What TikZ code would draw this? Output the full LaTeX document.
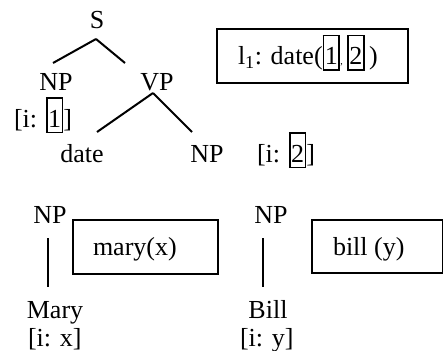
\documentclass[tikz,border=0pt]{standalone}
\usepackage{fontspec}
\setmainfont{Liberation Serif}
\newcommand{\numbox}[1]{{\setlength{\fboxsep}{0.5pt}\setlength{\fboxrule}{1.8pt}\fbox{\rule[-4pt]{0pt}{32pt}#1}}}

\begin{document}
\begin{tikzpicture}[x=1pt, y=-1pt, line width=2pt, every node/.style={inner sep=0pt, font=\fontsize{26}{30}\selectfont}, semframe/.style={draw, line width=1.8pt}]
\useasboundingbox (0,0) rectangle (443,350);

\node[anchor=base] (S) at (97,29) {S};
\node[anchor=base] (NPa) at (56,90) {NP};
\node[anchor=base] (VP) at (157,90) {VP};
\node[anchor=base west] (IdxA) at (13,127) {[i: \numbox{1}]};
\node[anchor=base] (Date) at (82,162) {date};
\node[anchor=base] (NPb) at (207,162) {NP};
\node[anchor=base west] (IdxB) at (256,162) {[i: \numbox{2}]};

\node[semframe, minimum width=191pt, minimum height=54pt, anchor=north west] (PredBox) at (216,28) {};
\node[anchor=base west] (Pred) at (237,65) {l\textsubscript{1}: date(\numbox{1}{\fontsize{10}{12}\selectfont,}\,\numbox{2}\,)};

\node[anchor=base] (NPc) at (50,223) {NP};
\node[anchor=base] (Mary) at (55,318) {Mary};
\node[anchor=base west] (IdxC) at (27,346) {[i: x]};
\node[semframe, minimum width=145pt, minimum height=54pt, anchor=north west] (MaryBox) at (72,219) {};
\node[anchor=base west] (MaryPred) at (92,255) {mary(x)};

\node[anchor=base] (NPd) at (271,223) {NP};
\node[anchor=base] (Bill) at (268,318) {Bill};
\node[anchor=base west] (IdxD) at (239,346) {[i: y]};
\node[semframe, minimum width=131pt, minimum height=53pt, anchor=north west] (BillBox) at (311,219) {};
\node[anchor=base west] (BillPred) at (332,255) {bill (y)};

\coordinate (Stop) at (96,39);
\coordinate (NPatop) at (53,63);
\coordinate (VPtop) at (125,63);
\coordinate (VPbot) at (153,93);
\coordinate (Datetop) at (97,132);
\coordinate (NPbtop) at (192,132);
\coordinate (NPcbot) at (48,238);
\coordinate (Marytop) at (48,287);
\coordinate (NPdbot) at (263,238);
\coordinate (Billtop) at (263,287);

\draw (Stop) -- (NPatop);
\draw (Stop) -- (VPtop);
\draw (VPbot) -- (Datetop);
\draw (VPbot) -- (NPbtop);
\draw (NPcbot) -- (Marytop);
\draw (NPdbot) -- (Billtop);
\end{tikzpicture}
\end{document}
